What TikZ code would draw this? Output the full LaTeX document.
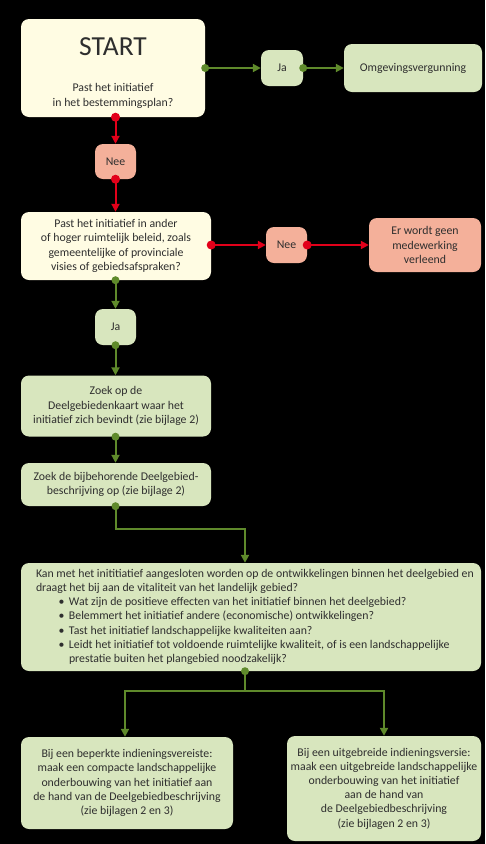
\documentclass[tikz,border=0pt]{standalone}
\usepackage{fontspec}
\setmainfont{Carlito}
\usetikzlibrary{arrows.meta,calc}
\definecolor{cream}{HTML}{FFFCE3}
\definecolor{lgreen}{HTML}{D8E6BE}
\definecolor{salmon}{HTML}{F4B09A}
\definecolor{gline}{HTML}{5F8A2B}
\definecolor{rline}{HTML}{E2001A}
\definecolor{txt}{HTML}{2E2E2E}
\begin{document}
\begin{tikzpicture}[x=1pt,y=-1pt,
  box/.style={rectangle,rounded corners=8pt,inner sep=0pt,align=center,text=txt,
    font=\fontsize{11.8}{14.2}\selectfont},
  yellowbox/.style={box,fill=cream},
  greenbox/.style={box,fill=lgreen},
  redbox/.style={box,fill=salmon},
  garrow/.style={draw=gline,line width=2pt,-{Triangle[length=8pt,width=8pt]}},
  rarrow/.style={draw=rline,line width=2pt,-{Triangle[length=8pt,width=8pt]}},
  gplain/.style={draw=gline,line width=2pt},
  gdot/.style={fill=gline},
  rdot/.style={fill=rline}]
\fill[black] (0,0) rectangle (485,844);
\useasboundingbox (0,0) rectangle (485,844);
% nodes
\node[yellowbox,minimum width=184pt,minimum height=98pt] (start) at (113,68)
  {{\fontsize{27.5}{30}\selectfont\rule{0pt}{28pt}START}\\[22pt]Past het initiatief\\in het bestemmingsplan?};
\node[greenbox,minimum width=42pt,minimum height=36pt] (ja1) at (282,68) {Ja};
\node[greenbox,minimum width=138pt,minimum height=48pt] (omg) at (413,68) {Omgevingsvergunning};
\node[redbox,minimum width=41pt,minimum height=35pt] (nee1) at (115.5,161.5) {Nee};
\node[yellowbox,minimum width=190pt,minimum height=68pt] (q2) at (116,246)
  {Past het initiatief in ander\\of hoger ruimtelijk beleid, zoals\\gemeentelijke of provinciale\\visies of gebiedsafspraken?};
\node[redbox,minimum width=41pt,minimum height=36pt] (nee2) at (286.5,245) {Nee};
\node[redbox,minimum width=112pt,minimum height=54pt] (geen) at (425,245)
  {Er wordt geen\\medewerking\\verleend};
\node[greenbox,minimum width=41pt,minimum height=36pt] (ja2) at (115.5,327) {Ja};
\node[greenbox,minimum width=190pt,minimum height=61pt] (zoek1) at (116,406)
  {Zoek op de\\Deelgebiedenkaart waar het\\initiatief zich bevindt (zie bijlage 2)};
\node[greenbox,minimum width=190pt,minimum height=43pt] (zoek2) at (116,484.5)
  {Zoek de bijbehorende Deelgebied-\\beschrijving op (zie bijlage 2)};
\node[greenbox,minimum width=460pt,minimum height=108pt] (kan) at (251,617)
  {\makebox[460pt][l]{\hspace*{15pt}\begin{tabular}{@{}l@{}}
  Kan met het inititiatief aangesloten worden op de ontwikkelingen binnen het deelgebied en\\
  draagt het bij aan de vitaliteit van het landelijk gebied?\\
  \makebox[33pt][r]{\textbullet\hspace{4.5pt}}Wat zijn de positieve effecten van het initiatief binnen het deelgebied?\\
  \makebox[33pt][r]{\textbullet\hspace{4.5pt}}Belemmert het initiatief andere (economische) ontwikkelingen?\\
  \makebox[33pt][r]{\textbullet\hspace{4.5pt}}Tast het initiatief landschappelijke kwaliteiten aan?\\
  \makebox[33pt][r]{\textbullet\hspace{4.5pt}}Leidt het initiatief tot voldoende ruimtelijke kwaliteit, of is een landschappelijke\\
  \hspace*{33pt}prestatie buiten het plangebied noodzakelijk?
  \end{tabular}}};
\node[greenbox,minimum width=212pt,minimum height=92pt] (bij1) at (127,783)
  {Bij een beperkte indieningsvereiste:\\maak een compacte landschappelijke\\onderbouwing van het initiatief aan\\de hand van de Deelgebiedbeschrijving\\(zie bijlagen 2 en 3)};
\node[greenbox,minimum width=194pt,minimum height=105pt] (bij2) at (384,788.5)
  {Bij een uitgebreide indieningsversie:\\maak een uitgebreide landschappelijke\\onderbouwing van het initiatief\\aan de hand van\\de Deelgebiedbeschrijving\\(zie bijlagen 2 en 3)};
% connectors
\coordinate (s1) at (start.east);
\draw[garrow] (s1) -- (ja1.west);
\fill[gdot] (s1) circle[radius=4pt];
\coordinate (j1) at (ja1.east);
\draw[garrow] (j1) -- (omg.west);
\fill[gdot] (j1) circle[radius=4pt];
\coordinate (s2) at (nee1.north |- start.south);
\draw[rarrow] (s2) -- (nee1.north);
\fill[rdot] (s2) circle[radius=4.5pt];
\coordinate (n1) at (nee1.south);
\draw[rarrow] (n1) -- (n1 |- q2.north);
\fill[rdot] (n1) circle[radius=4.5pt];
\coordinate (q2e) at (q2.east |- nee2.west);
\draw[rarrow] (q2e) -- (nee2.west);
\fill[rdot] (q2e) circle[radius=4.5pt];
\coordinate (n2) at (nee2.east);
\draw[rarrow] (n2) -- (geen.west |- n2);
\fill[rdot] (n2) circle[radius=4.5pt];
\coordinate (q2s) at (ja2.north |- q2.south);
\draw[garrow] (q2s) -- (ja2.north);
\fill[gdot] (q2s) circle[radius=4pt];
\coordinate (j2) at (ja2.south);
\draw[garrow] (j2) -- (j2 |- zoek1.north);
\fill[gdot] (j2) circle[radius=4pt];
\coordinate (z1) at (ja2.south |- zoek1.south);
\draw[garrow] (z1) -- (z1 |- zoek2.north);
\fill[gdot] (z1) circle[radius=4pt];
\coordinate (z2) at (ja2.south |- zoek2.south);
\coordinate (kanin) at ([xshift=-6pt]kan.north);
\draw[garrow] (z2) -- ++(0,23) -| (kanin);
\fill[gdot] (z2) circle[radius=4pt];
\coordinate (kanout) at ([xshift=-6pt]kan.south);
\coordinate (split) at ($(kanout)+(0,20)$);
\draw[gplain] (kanout) -- (split);
\draw[garrow] (split) -| ([xshift=-2pt]bij1.north);
\draw[garrow] (split) -| (bij2.north);
\fill[gdot] (kanout) circle[radius=4pt];
\end{tikzpicture}
\end{document}
